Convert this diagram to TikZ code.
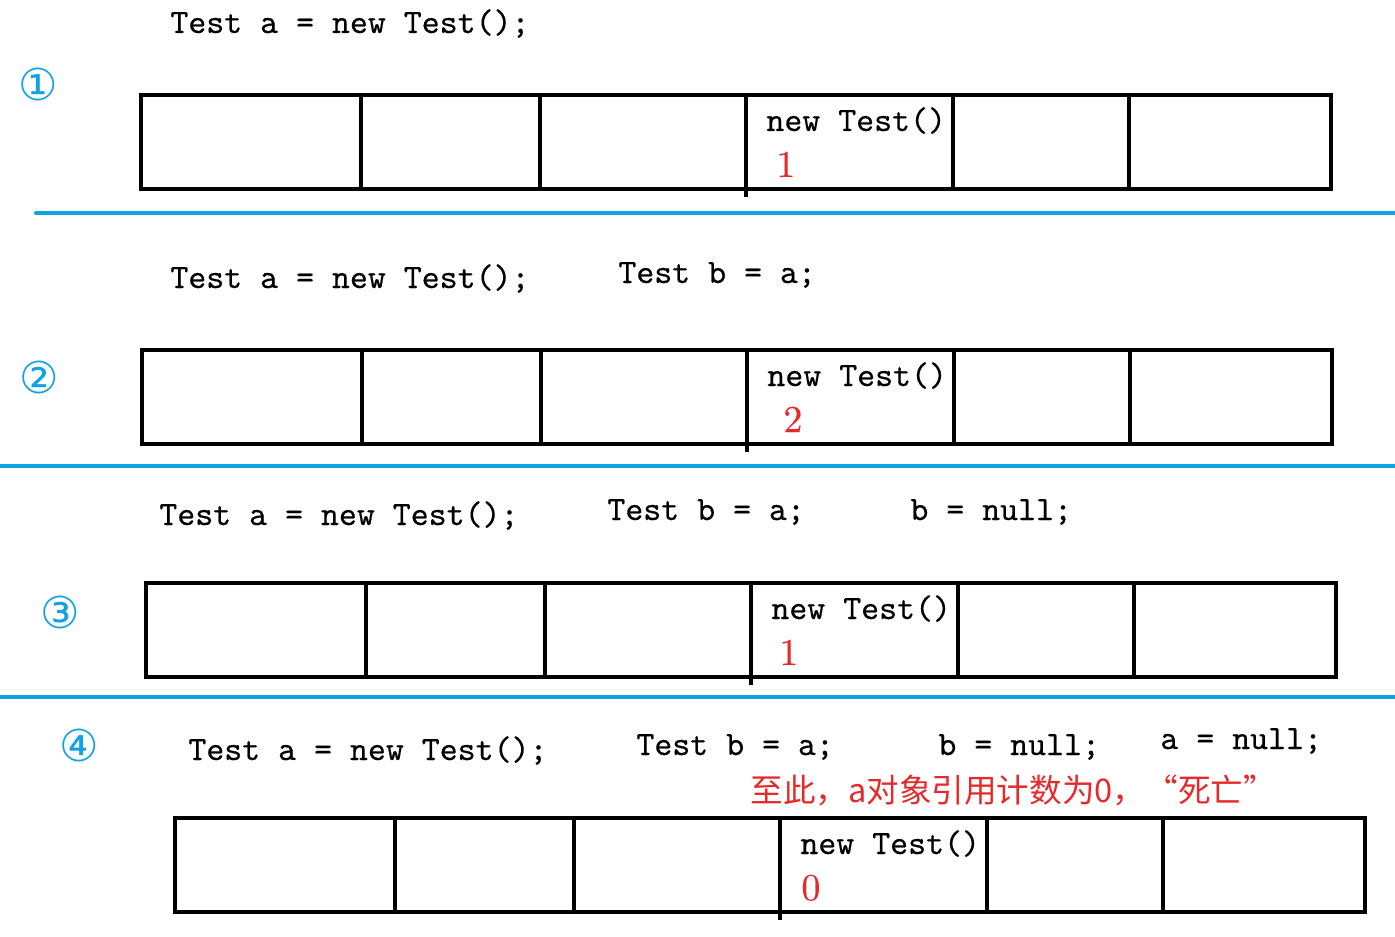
\documentclass[tikz,border=0pt]{standalone}
\usepackage{fontspec}
\newfontfamily\cjkfont{Noto Sans CJK SC}
\newfontfamily\symfont{DejaVu Sans}
\newfontfamily\codefont{lmmono10-regular}[Extension=.otf, FakeBold=0.35]
\newfontfamily\countfont{lmroman10-regular}[Extension=.otf, FakeBold=0.4]
\usetikzlibrary{positioning}
\definecolor{sepblue}{HTML}{12A2E2}
\definecolor{countred}{HTML}{E42A2A}

\begin{document}
\begin{tikzpicture}[
  x=0.5pt, y=-0.5pt,
  cell/.style={draw, line width=2.3pt, minimum height=47pt, inner sep=0pt, outer sep=0pt, anchor=north west},
  code/.style={font=\fontsize{17.1}{18}\selectfont\codefont, anchor=base west, inner sep=0pt},
  count/.style={font=\fontsize{19}{20}\selectfont\countfont, text=countred, anchor=base west, inner sep=0pt},
  stagenum/.style={font=\fontsize{22}{24}\selectfont\symfont, text=sepblue, inner sep=0pt},
  sep/.style={draw=sepblue, line width=2pt}
]
  \useasboundingbox (0,0) rectangle (1395,936);

  % memory strips, one per stage
  \foreach \r/\x/\y/\cnt/\dx in {1/141/95/1/15, 2/142/350/2/18, 3/146/583/1/14, 4/175/818/0/10.5} {
    \foreach \i/\o/\w in {1/0/220, 2/220/179, 3/399/206, 4/605/207, 5/812/176, 6/988/202}
      \node[cell, minimum width={\w*0.5pt}] (r\r-\i) at (\x+\o,\y) {};
    \draw[line width=2.3pt] (r\r-4.south west) -- ++(0,8);
    \node[code] (obj\r) at ([xshift=10pt, yshift=-18pt]r\r-4.north west) {new Test()};
    \node[count] (cnt\r) at ([xshift=\dx pt, yshift=-41pt]r\r-4.north west) {\cnt};
  }

  % stage numbers
  \node[stagenum] (s1) at (38,84) {①};
  \node[stagenum] (s2) at (39,377) {②};
  \node[stagenum] (s3) at (60,612) {③};
  \node[stagenum] (s4) at (79,745) {④};

  % statements
  \node[code] (a1) at (170,33) {Test a = new Test();};

  \node[code] (a2) at (170,288) {Test a = new Test();};
  \node[code] (b2) at (618,283) {Test b = a;};

  \node[code] (a3) at (159,525) {Test a = new Test();};
  \node[code] (b3) at (607,520) {Test b = a;};
  \node[code] (n3) at (910,520) {b = null;};

  \node[code] (a4) at (188,760) {Test a = new Test();};
  \node[code] (b4) at (636,755) {Test b = a;};
  \node[code] (n4) at (938,755) {b = null;};
  \node[code] (m4) at (1160,749) {a = null;};
  \node[anchor=base west, inner sep=0pt, text=countred, font=\fontsize{16.3}{18}\selectfont\cjkfont] (dead) at (750,802) {至此，a对象引用计数为0，“死亡”};

  % separators
  \draw[sep, line cap=round] (36,213) -- (1395,213);
  \draw[sep] (0,466) -- (1395,466);
  \draw[sep] (0,697) -- (1395,697);
\end{tikzpicture}
\end{document}
